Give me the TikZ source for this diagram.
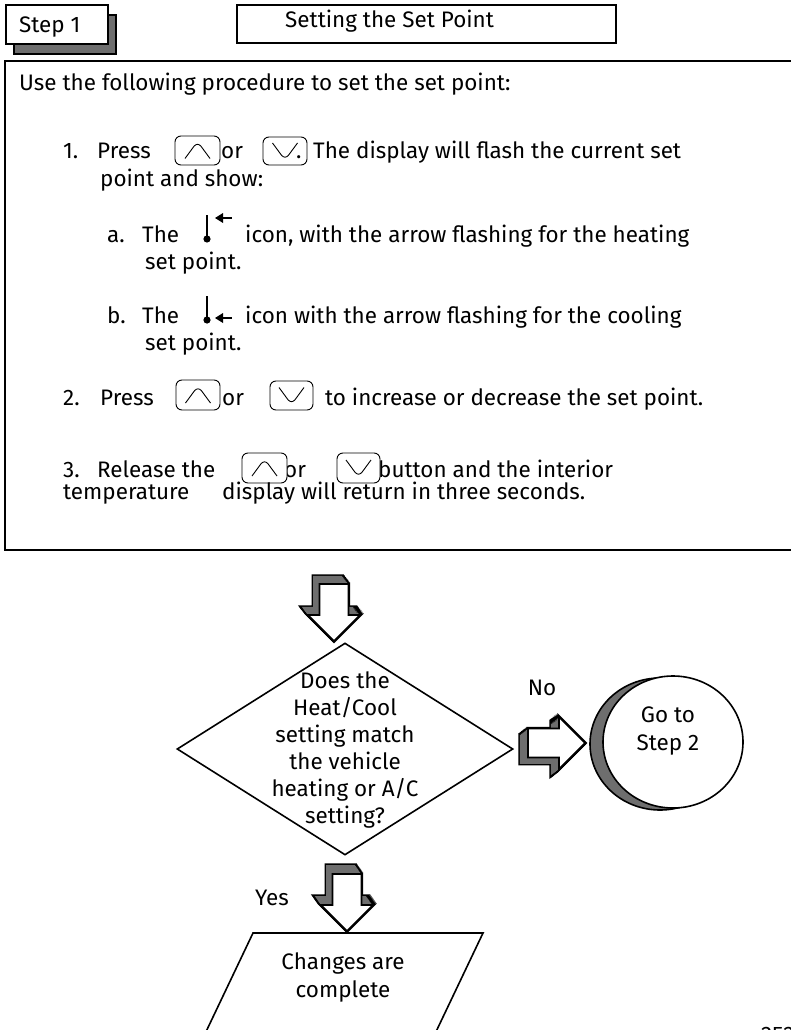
\documentclass[tikz,border=0pt]{standalone}
\usepackage{fontspec}
\setmainfont{Fira Sans}
\usetikzlibrary{shapes.geometric,calc}
\definecolor{shadowgray}{RGB}{110,110,110}
\newlength\calw
\def\downpath{(-14.5,-57) -- (14.5,-57) -- (14.5,-26) -- (26,-26) -- (0,0) -- (-26,-26) -- (-14.5,-26) -- cycle}
\def\rightpath{(-57,-14.5) -- (-57,14.5) -- (-26,14.5) -- (-26,26) -- (0,0) -- (-26,-26) -- (-26,-14.5) -- cycle}
\newcommand\blockarrow[4]{%
  \begin{scope}[shift={(#1)}]
    \foreach \t in {0,0.1,...,1.0}{\draw[line width=3.2pt, shift={({\t*(#3)},{\t*(#4)})}] #2;}
    \foreach \t in {0,0.1,...,1.0}{\fill[shadowgray, shift={({\t*(#3)},{\t*(#4)})}] #2;}
    \draw[line width=1.6pt, fill=white] #2;
  \end{scope}}
\begin{document}
\settowidth\calw{\fontsize{20pt}{24pt}\selectfont to increase or decrease the set point.}
\pgfmathsetmacro\fsz{20*378/\calw}
\pgfmathsetmacro\fsb{\fsz*1.2}
\begin{tikzpicture}[x=1pt,y=-1pt,
  every node/.style={font=\fontsize{\fsz pt}{\fsb pt}\selectfont, inner sep=0pt},
  txt/.style={anchor=base west},
  frame/.style={draw, line width=1.6pt, anchor=north west},
  btn/.style={draw, line width=0.9pt, rounded corners=6pt, fill=white},
  btnup/.style={btn, path picture={\draw[line width=0.9pt]
      ([xshift=-12.5pt,yshift=-8pt]path picture bounding box.center) --
      ([yshift=9pt]path picture bounding box.center) --
      ([xshift=12.5pt,yshift=-8pt]path picture bounding box.center);}},
  btndown/.style={btn, path picture={\draw[line width=0.9pt]
      ([xshift=-12.5pt,yshift=8pt]path picture bounding box.center) --
      ([yshift=-9pt]path picture bounding box.center) --
      ([xshift=12.5pt,yshift=8pt]path picture bounding box.center);}},
  flowline/.style={line width=1.6pt},
  multi/.style={align=center, font=\fontsize{\fsz pt}{27pt}\selectfont}
]
\useasboundingbox (0,0) rectangle (791,1030);
\fill[white] (0,0) rectangle (791,1030);

% header
\node[frame, fill=shadowgray, minimum width=102pt, minimum height=39pt] (stepsh) at (13,14) {};
\node[frame, fill=white, minimum width=102pt, minimum height=39pt] (stepbox) at (5,4) {};
\node[txt] (steptxt) at (19,33) {Step 1};
\node[frame, minimum width=379pt, minimum height=38pt] (titlebox) at (236,4) {};
\node[txt] (titletxt) at (285,28) {Setting the Set Point};

% main box
\node[draw, line width=2.2pt, anchor=north west, minimum width=820pt, minimum height=489pt] (mainbox) at (4,60) {};

\node[txt] (l0) at (19,91) {Use the following procedure to set the set point:};

\node[txt] (l1n) at (63,158) {1.};
\node[txt] (l1p) at (97,158) {Press};
\node[txt] (l1or) at (221,158) {or};
\node[txt] (l1t) at (313,158) {The display will flash the current set};
\node[btnup, minimum width=45pt, minimum height=29pt] (b1u) at (197.5,150.5) {};
\node[btndown, minimum width=44pt, minimum height=28pt] (b1d) at (285,151) {};
\node[txt] (l1dot) at (296,158) {.};
\node[txt] (l1b) at (100,186) {point and show:};

\node[txt] (lan) at (107,242) {a.};
\node[txt] (lat) at (142,242) {The};
\node[txt] (lai) at (245,242) {icon, with the arrow flashing for the heating};
\node[txt] (la2) at (145,269) {set point.};
% heating icon
\draw[line width=2.6pt] (207,215) -- (207,237);
\fill (207,239) circle[radius=3.6pt];
\fill (215,218) -- (223,213) -- (223,223) -- cycle;
\draw[line width=2.6pt] (222,218) -- (232,218);

\node[txt] (lbn) at (107,323) {b.};
\node[txt] (lbt) at (142,323) {The};
\node[txt] (lbi) at (245,323) {icon with the arrow flashing for the cooling};
\node[txt] (lb2) at (145,350) {set point.};
% cooling icon
\draw[line width=2.6pt] (207,296) -- (207,318);
\fill (207,320) circle[radius=3.6pt];
\fill (215,318) -- (223,313) -- (223,323) -- cycle;
\draw[line width=2.6pt] (222,318) -- (232,318);

\node[txt] (l2n) at (63,405) {2.};
\node[txt] (l2p) at (100,405) {Press};
\node[txt] (l2or) at (222,405) {or};
\node[txt] (l2t) at (325,405) {to increase or decrease the set point.};
\node[btnup, minimum width=44pt, minimum height=30pt] (b2u) at (198,395) {};
\node[btndown, minimum width=43pt, minimum height=29pt] (b2d) at (291.5,395.5) {};

\node[txt] (l3n) at (63,477) {3.};
\node[txt] (l3r) at (97,477) {Release the};
\node[txt] (l3or) at (284,477) {or};
\node[txt] (l3b) at (378,477) {button and the interior};
\node[btnup, minimum width=45pt, minimum height=30pt] (b3u) at (264.5,468) {};
\node[btndown, minimum width=43pt, minimum height=30pt] (b3d) at (358.5,468) {};
\node[txt] (l3c) at (63,499) {temperature};
\node[txt] (l3d) at (222,499) {display will return in three seconds.};

% flowchart
\node[diamond, draw, flowline, fill=white, minimum width=336pt, minimum height=212pt] (dia) at (345,749) {};
\node[multi] (diatxt) at (345,750) {Does the\\Heat/Cool\\setting match\\the vehicle\\heating or A/C\\setting?};

\coordinate (tipA) at (334,641);
\blockarrow{tipA}{\downpath}{-7}{-9}

\node (no) at (542,688) {No};
\coordinate (tipB) at (585,743);
\blockarrow{tipB}{\rightpath}{-9}{7}

\node[ellipse, draw, flowline, fill=shadowgray, minimum width=140pt, minimum height=132pt] (gotoback) at (660,744) {};
\node[ellipse, draw, flowline, fill=white, minimum width=140pt, minimum height=132pt] (goto) at (673,742) {};
\node[multi, font=\fontsize{\fsz pt}{28pt}\selectfont] (gototxt) at (668,731) {Go to\\Step 2};

\node (yes) at (272,898) {Yes};
\coordinate (tipC) at (347,931);
\blockarrow{tipC}{\downpath}{-7}{-10}

\draw[flowline, fill=white] (253,933) -- (483,933) -- (413,1080) -- (183,1080) -- cycle;
\node[multi, font=\fontsize{\fsz pt}{28pt}\selectfont] (done) at (343,977) {Changes are\\complete};

\node[anchor=north west] (fig) at (761,1027) {252};
\end{tikzpicture}
\end{document}
